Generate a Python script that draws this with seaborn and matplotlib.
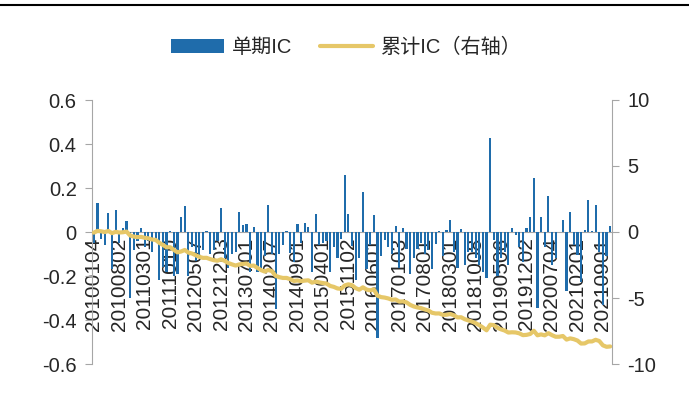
import numpy as np
import pandas as pd
import matplotlib
matplotlib.use("Agg")
import matplotlib.pyplot as plt
from matplotlib.lines import Line2D
from matplotlib.patches import Patch
import seaborn as sns

# Monthly factor IC, 2010-01 .. 2021-11
single_ic = [
    -0.05, 0.133, -0.03, -0.06, 0.088, -0.17, 0.10, -0.05, 0.02, 0.05,
    -0.30, -0.08, -0.04, 0.02, -0.07, -0.04, -0.09, -0.03, -0.22, -0.16,
    -0.18, 0.005, -0.2, -0.19, 0.066, 0.118, -0.2, -0.07, -0.13, -0.12,
    -0.08, 0.005, -0.1, -0.08, -0.04, 0.107, -0.12, -0.165, -0.1, -0.09,
    0.09, 0.032, 0.035, -0.18, 0.024, -0.18, -0.165, -0.11, 0.125, -0.1,
    -0.35, -0.10, -0.06, 0.003, -0.095, -0.135, 0.035, -0.05, 0.042, 0.023,
    -0.18, 0.082, -0.06, -0.05, -0.04, -0.18, -0.07, -0.12, -0.03, 0.26,
    0.082, -0.065, -0.22, -0.12, 0.18, -0.17, -0.06, 0.077, -0.48, -0.11,
    -0.036, -0.067, -0.1, 0.027, -0.165, 0.017, -0.075, -0.19, -0.12, -0.075,
    -0.05, -0.1, -0.08, -0.17, -0.056, 0.004, -0.11, 0.01, 0.055, -0.09,
    -0.165, 0.012, -0.15, -0.09, -0.09, -0.12, -0.15, -0.18, -0.21, 0.426,
    -0.036, -0.2, -0.12, -0.09, -0.15, 0.02, -0.014, -0.067, -0.135, 0.02,
    0.067, 0.244, -0.344, 0.067, -0.07, 0.164, -0.15, -0.12, 0.002, 0.053,
    -0.27, 0.091, -0.06, -0.105, -0.226, 0.01, 0.147, 0.003, 0.123, -0.09,
    -0.33, -0.11, 0.027,
]
months = pd.date_range("2010-01-01", periods=len(single_ic), freq="MS").strftime("%Y%m")
tick_labels = [
    "20100104", "20100802", "20110301", "20111010", "20120507", "20121203",
    "20130701", "20140207", "20140901", "20150401", "20151102", "20160601",
    "20170103", "20170801", "20180301", "20181008", "20190506", "20191202",
    "20200704", "20210201", "20210901",
]
tick_step = 7

left_ticks = [-0.6, -0.4, -0.2, 0.0, 0.2, 0.4, 0.6]
left_tick_labels = ["-0.6", "-0.4", "-0.2", "0", "0.2", "0.4", "0.6"]
right_ticks = [-10, -5, 0, 5, 10]

df = pd.DataFrame({"month": months, "ic": single_ic})
df["pos"] = np.arange(len(df))
df["cum_ic"] = df["ic"].cumsum()

BLUE = "#1f6cab"
GOLD = "#e6c768"
GREY = "#a6a6a6"

sns.set_style("white")
plt.rcParams["font.family"] = ["Liberation Sans", "Noto Sans CJK SC", "DejaVu Sans"]

fig = plt.figure(figsize=(6.89, 4.16), dpi=100)
ax = fig.add_axes([92 / 689, 1 - 364 / 416, 520 / 689, 264 / 416])

sns.barplot(data=df, x="month", y="ic", color=BLUE, width=0.62,
            saturation=1, linewidth=0, ax=ax, zorder=2)
ax.set_axisbelow(True)
ax.set_xlim(-0.5, len(df) - 0.5)
ax.set_ylim(-0.6, 0.6)
ax.set_yticks(left_ticks)
ax.set_yticklabels(left_tick_labels, fontsize=14.5)
ax.set_xlabel("")
ax.set_ylabel("")

# category axis sits on zero, labels rotated below it
ax.spines["bottom"].set_position(("data", 0))
ax.spines["bottom"].set_color(GREY)
ax.spines["bottom"].set_zorder(1)
ax.spines["top"].set_visible(False)
ax.spines["right"].set_visible(False)
ax.spines["left"].set_color(GREY)
ax.set_xticks(np.arange(0, len(df), tick_step))
ax.set_xticklabels(tick_labels, rotation=90, fontsize=15, va="top")
ax.set_xticks(np.arange(-0.5, len(df), 1), minor=True)
ax.tick_params(axis="x", which="major", length=0, pad=4)
ax.tick_params(axis="x", which="minor", length=2, color=GREY, width=0.6, direction="out")
ax.tick_params(axis="y", length=5, color=GREY, direction="out", pad=6)

ax2 = ax.twinx()
sns.lineplot(data=df, x="pos", y="cum_ic", color=GOLD, linewidth=3.0, ax=ax2)
ax2.set_ylim(-10, 10)
ax2.set_yticks(right_ticks)
ax2.set_yticklabels([str(t) for t in right_ticks], fontsize=14.5)
ax2.set_xlim(-0.5, len(df) - 0.5)
ax2.set_ylabel("")
ax2.set_xlabel("")
for side in ["top", "left", "bottom"]:
    ax2.spines[side].set_visible(False)
ax2.spines["right"].set_color(GREY)
ax2.tick_params(axis="y", length=5, color=GREY, direction="out", pad=6)

handles = [
    Patch(facecolor=BLUE, edgecolor="none"),
    Line2D([0], [0], color=GOLD, linewidth=3.0),
]
fig.legend(handles, ["单期IC", "累计IC（右轴）"], loc="center",
           bbox_to_anchor=(0.503, 1 - 47 / 416), ncol=2, frameon=False,
           fontsize=14.5, handlelength=2.6, columnspacing=1.4, handletextpad=0.4)

# report separator rule across the top
fig.add_artist(Line2D([0, 1], [1 - 5 / 416, 1 - 5 / 416], color="black",
                      linewidth=1.5, transform=fig.transFigure))

fig.savefig("out.png", dpi=100, facecolor="white")
